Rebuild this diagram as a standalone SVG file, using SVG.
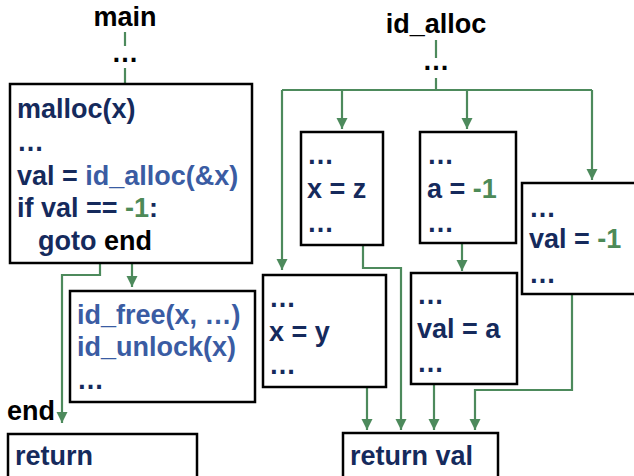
<svg xmlns="http://www.w3.org/2000/svg" width="634" height="476" viewBox="0 0 634 476">
<defs>
<style>
text{font-family:"Liberation Sans",Arial,Helvetica,sans-serif;font-weight:bold;font-size:27px;fill:#152a5c}
.k{fill:#000}
.b{fill:#3a5ca3}
.g{fill:#4d8a57}
.box{fill:#fff;stroke:#000;stroke-width:2.5}
.c{fill:none;stroke:#4d8a5c;stroke-width:2.2}
.a{marker-end:url(#ah)}
</style>
<marker id="ah" markerUnits="userSpaceOnUse" markerWidth="12" markerHeight="12" viewBox="0 0 12 12" refX="11" refY="6" orient="auto">
<path d="M0,0.5 L11,6 L0,11.5 Z" fill="#4d8a5c"/>
</marker>
</defs>
<rect width="634" height="476" fill="#fff"/>
<g id="connectors">
<path class="c" d="M125 32 V46 M125 68 V84"/>
<path class="c a" d="M100 263 V275 H62 V423"/>
<path class="c a" d="M132 263 V287"/>
<path class="c" d="M436 40 V58 M436 78 V90 M282 90 H592"/>
<path class="c a" d="M282 90 V270"/>
<path class="c a" d="M342 90 V129"/>
<path class="c a" d="M467 90 V129"/>
<path class="c a" d="M592 90 V180"/>
<path class="c a" d="M363 245 V268 H401 V430"/>
<path class="c a" d="M462 243 V271"/>
<path class="c a" d="M367 387 V430"/>
<path class="c a" d="M434 384 V430"/>
<path class="c a" d="M572 294 V390 H475 V430"/>
</g>
<g id="main-label">
<text class="k" x="125" y="26" text-anchor="middle">main</text>
<text class="k" x="125" y="62" text-anchor="middle">…</text>
</g>
<g id="main-box">
<rect class="box" x="10" y="84" width="242" height="179"/>
<text x="17" y="118">malloc(x)</text>
<text x="17" y="151">…</text>
<text x="17" y="185">val = <tspan class="b">id_alloc(&amp;x)</tspan></text>
<text x="17" y="217">if val == <tspan class="g">-1</tspan>:</text>
<text x="38" y="250">goto <tspan class="k">end</tspan></text>
</g>
<g id="free-box">
<rect class="box" x="70" y="291" width="185" height="111"/>
<text class="b" x="77" y="324">id_free(x, …)</text>
<text class="b" x="77" y="356">id_unlock(x)</text>
<text x="77" y="389">…</text>
</g>
<g id="end-label">
<text class="k" x="7" y="420">end</text>
</g>
<g id="return-box">
<rect class="box" x="8" y="434" width="189" height="60"/>
<text x="15" y="465">return</text>
</g>
<g id="id-alloc-label">
<text class="k" x="436" y="33" text-anchor="middle">id_alloc</text>
<text class="k" x="436" y="70" text-anchor="middle">…</text>
</g>
<g id="xz-box">
<rect class="box" x="301" y="132" width="82" height="113"/>
<text x="307" y="164">…</text>
<text x="307" y="198">x = z</text>
<text x="307" y="232">…</text>
</g>
<g id="a-box">
<rect class="box" x="420" y="132" width="96" height="111"/>
<text x="427" y="164">…</text>
<text x="427" y="198">a = <tspan class="g">-1</tspan></text>
<text x="427" y="232">…</text>
</g>
<g id="valm1-box">
<rect class="box" x="522" y="183" width="130" height="111"/>
<text x="529" y="217">…</text>
<text x="529" y="248">val = <tspan class="g">-1</tspan></text>
<text x="529" y="283">…</text>
</g>
<g id="xy-box">
<rect class="box" x="263" y="275" width="123" height="112"/>
<text x="269" y="307">…</text>
<text x="269" y="341">x = y</text>
<text x="269" y="374">…</text>
</g>
<g id="vala-box">
<rect class="box" x="411" y="273" width="106" height="111"/>
<text x="417" y="304">…</text>
<text x="417" y="338">val = a</text>
<text x="417" y="372">…</text>
</g>
<g id="return-val-box">
<rect class="box" x="343" y="433" width="155" height="60"/>
<text x="350" y="465">return val</text>
</g>
</svg>
